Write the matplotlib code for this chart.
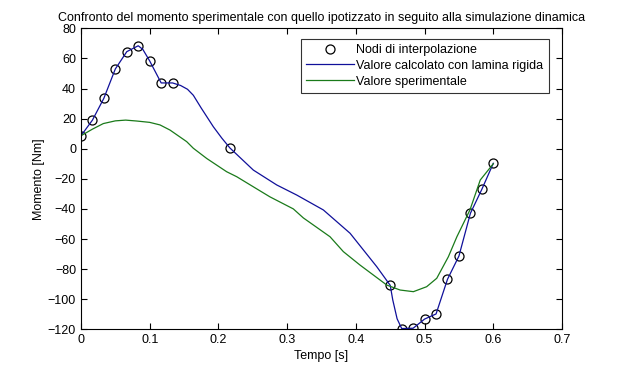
import numpy as np
import matplotlib.pyplot as plt

plt.rcParams['font.family'] = ['Liberation Sans', 'DejaVu Sans']

# interpolation nodes
nodi_t = [0, 0.0167, 0.0333, 0.05, 0.0667, 0.0833, 0.1, 0.1167, 0.1333, 0.2167,
          0.45, 0.4667, 0.4833, 0.5, 0.5167, 0.5333, 0.55, 0.5667, 0.5833, 0.6]
nodi_m = [8.6, 19, 33.5, 53, 64.5, 68.4, 58.3, 43.7, 43.7, 0.5,
          -90.8, -119.5, -119.3, -113.2, -109.8, -86.8, -71.3, -42.9, -27, -9.7]

# curve computed with rigid blade
calc_t = [0, 0.0167, 0.0333, 0.05, 0.0667, 0.0833, 0.09, 0.1, 0.1167, 0.1333,
          0.145, 0.155, 0.1635, 0.175, 0.1926, 0.205, 0.2167, 0.2508, 0.2849,
          0.314, 0.3527, 0.3916, 0.411, 0.4304, 0.45, 0.4537, 0.46, 0.4667,
          0.4833, 0.5, 0.5167, 0.5333, 0.55, 0.5667, 0.5833, 0.6]
calc_m = [8.6, 19, 33.5, 53, 64.5, 68.4, 66, 58.3, 43.7, 43.7,
          42, 39.5, 35.5, 27, 14.6, 7, 0.5, -14.2, -24.1,
          -30.8, -40.7, -56.2, -67.3, -78.4, -90.8, -100.5, -113, -119.5,
          -119.3, -113.2, -109.8, -86.8, -71.3, -42.9, -27, -9.7]

# experimental curve
sper_t = [0, 0.0167, 0.0325, 0.05, 0.065, 0.081, 0.1, 0.115, 0.1295, 0.1538,
          0.1635, 0.183, 0.212, 0.2266, 0.2605, 0.275, 0.309, 0.3236, 0.3624,
          0.3818, 0.406, 0.445, 0.4643, 0.4837, 0.503, 0.5177, 0.5346, 0.547,
          0.566, 0.581, 0.6]
sper_m = [8.6, 13, 16.7, 18.5, 19, 18.4, 17.5, 15.8, 12.4, 4.7,
          0.3, -6.5, -15.3, -18.6, -28, -32, -40, -46, -58.5,
          -68.4, -77.3, -90.6, -93.9, -95, -91.7, -86.1, -71.8, -58.5,
          -40.7, -20.8, -10]

fig = plt.figure(figsize=(6.2, 3.71), dpi=100)
ax = fig.add_axes([0.1306, 0.1124, 0.7759, 0.8113])

ax.plot(nodi_t, nodi_m, 'o', mfc='none', mec='black', ms=6.5, mew=0.9,
        label='Nodi di interpolazione')
ax.plot(calc_t, calc_m, color='#10109a', lw=0.9,
        label='Valore calcolato con lamina rigida')
ax.plot(sper_t, sper_m, color='#1a7a1a', lw=0.9, label='Valore sperimentale')

ax.set_xlim(0, 0.7)
ax.set_ylim(-120, 80)
ax.set_xticks(np.arange(0, 0.71, 0.1))
ax.set_xticklabels(['0', '0.1', '0.2', '0.3', '0.4', '0.5', '0.6', '0.7'])
ax.set_yticks(np.arange(-120, 81, 20))
ax.tick_params(direction='in', top=True, right=True, labelsize=9, length=4, width=0.8)
for s in ax.spines.values():
    s.set_linewidth(0.8)

ax.set_title('Confronto del momento sperimentale con quello ipotizzato in seguito alla simulazione dinamica',
             fontsize=9, pad=5)
ax.set_xlabel('Tempo [s]', fontsize=9, labelpad=3)
ax.set_ylabel('Momento [Nm]', fontsize=9, labelpad=2)

leg = ax.legend(loc='upper right', fontsize=9, frameon=True, fancybox=False,
                edgecolor='black', handlelength=3.8, borderpad=0.4,
                labelspacing=0.3, handletextpad=0.2, bbox_to_anchor=(0.985, 0.985))
leg.get_frame().set_linewidth(0.8)

fig.savefig('out.png', dpi=100)
